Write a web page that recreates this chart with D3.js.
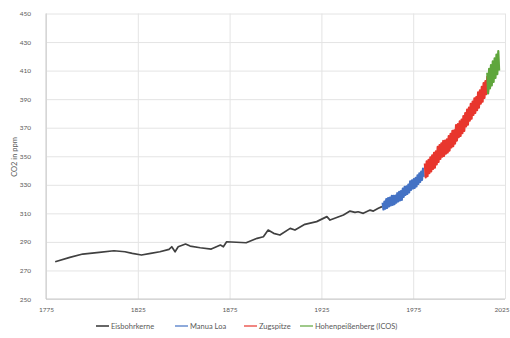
<!DOCTYPE html>
<html>
<head>
<meta charset="utf-8">
<script src="https://cdn.jsdelivr.net/npm/d3@7"></script>
<style>
  html, body { margin: 0; padding: 0; background: #fff; }
  svg { display: block; }
  text { font-family: Lato, "Open Sans", sans-serif; fill: #595959; }
</style>
</head>
<body>
<svg id="chart" width="510" height="338"></svg>
<script>
// Ice-core record (year, ppm)
const iceYears = [1780, 1788, 1795, 1804, 1812, 1818, 1822, 1827, 1832, 1837, 1842, 1843.5, 1845.3, 1847,
  1851, 1853.5, 1859, 1865, 1870, 1871.6, 1873.4, 1884, 1890, 1893.4, 1896, 1899, 1902.4, 1908, 1910.6,
  1916, 1922.4, 1928, 1929.7, 1937, 1940.6, 1943.3, 1945, 1947.8, 1951.5, 1953.3, 1956, 1958];
const iceValues = [276.1, 279.2, 281.5, 282.7, 283.8, 283.1, 282.0, 280.8, 282.0, 283.1, 284.8, 286.6, 283.1, 286.6,
  288.5, 287.1, 285.9, 285.0, 287.8, 286.6, 290.1, 289.4, 292.5, 293.6, 298.3, 296.0, 294.8, 299.5, 298.3,
  302.3, 304.2, 307.7, 305.3, 308.8, 311.6, 310.7, 311.1, 310.0, 312.3, 311.6, 313.5, 314.7];

// Station records: seasonal maximum (spring) and minimum (autumn) per year, starting at the first year
const maunaLoaStart = 1958;
const maunaLoaValues = [
  317.5, 312.7, 318.3, 313.3, 320.0, 313.8, 320.6, 314.8, 321.0, 315.6, 322.2, 316.0,
  322.3, 316.5, 322.5, 317.5, 324.1, 318.3, 325.0, 319.0, 325.6, 319.5, 327.4, 321.5,
  328.5, 322.9, 328.9, 323.7, 330.2, 324.6, 332.5, 326.5, 333.1, 327.4, 334.0, 327.8,
  334.9, 328.8, 336.7, 330.7, 338.0, 332.0, 339.2, 333.5, 341.4, 335.6];

const zugspitzeStart = 1981;
const zugspitzeValues = [
  345.0, 335.2, 346.4, 336.0, 347.5, 338.1, 349.3, 339.4, 350.6, 341.2, 352.4, 342.0,
  353.5, 344.3, 356.6, 346.0, 357.8, 348.1, 359.0, 349.7, 360.7, 350.3, 360.9, 351.8,
  361.8, 352.6, 364.1, 354.0, 365.7, 356.2, 367.8, 357.1, 368.2, 358.9, 371.9, 361.0,
  372.6, 363.4, 374.5, 364.3, 375.6, 366.2, 378.1, 367.8, 380.3, 370.9, 382.6, 372.1,
  384.0, 375.0, 386.7, 376.3, 388.2, 378.9, 390.6, 380.4, 391.5, 382.3, 394.8, 384.1,
  396.2, 386.8, 398.7, 388.2, 401.3, 390.9, 402.6, 393.5, 405.6, 395.4, 408.9, 398.1,
  410.2, 400.8];

const hohenStart = 2015;
const hohenValues = [
  408.5, 394.0, 411.2, 397.5, 413.8, 399.6, 416.5, 402.0, 418.6, 404.8, 421.2, 407.5,
  423.6, 410.0];

const yTicks = [250, 270, 290, 310, 330, 350, 370, 390, 410, 430, 450];
const xTicks = [1775, 1825, 1875, 1925, 1975, 2025];
const seriesNames = ["Eisbohrkerne", "Manua Loa", "Zugspitze", "Hohenpeißenberg (ICOS)"];
const seriesColors = ["#404040", "#4472c4", "#e8362d", "#5fa63c"];

// Seasonal pairs: max in late spring, min in autumn
function seasonal(start, values) {
  return values.map((v, i) => ({ x: start + Math.floor(i / 2) + (i % 2 === 0 ? 0.35 : 0.8), y: v }));
}

const series = [
  iceYears.map((yr, i) => ({ x: yr, y: iceValues[i] })),
  seasonal(maunaLoaStart, maunaLoaValues),
  seasonal(zugspitzeStart, zugspitzeValues),
  seasonal(hohenStart, hohenValues)
];

const svg = d3.select("#chart");
const plotLeft = 46, plotRight = 505, plotTop = 13.5, plotBottom = 299;

const x = d3.scaleLinear().domain([1775, 2025]).range([plotLeft, plotRight]);
const y = d3.scaleLinear().domain([250, 450]).range([plotBottom, plotTop]);

// Horizontal gridlines + y labels
const yAxis = svg.append("g")
  .attr("transform", `translate(${plotLeft},0)`)
  .call(d3.axisLeft(y).tickValues(yTicks).tickSize(-(plotRight - plotLeft)).tickPadding(15).tickFormat(d3.format("d")));
yAxis.select(".domain").remove();
yAxis.selectAll(".tick line").attr("stroke", "#e4e4e4").attr("stroke-width", 1);
yAxis.selectAll(".tick text").attr("font-size", 6.5).attr("fill", "#666").attr("font-family", "Lato, sans-serif");

// Vertical gridlines + x labels
const xAxis = svg.append("g")
  .attr("transform", `translate(0,${plotBottom})`)
  .call(d3.axisBottom(x).tickValues(xTicks).tickSize(-(plotBottom - plotTop)).tickPadding(8).tickFormat(d3.format("d")));
xAxis.select(".domain").remove();
xAxis.selectAll(".tick line").attr("stroke", "#e4e4e4").attr("stroke-width", 1);
xAxis.selectAll(".tick text").attr("font-size", 6.5).attr("fill", "#666").attr("font-family", "Lato, sans-serif");
// keep the last year label inside the canvas
xAxis.selectAll(".tick text").filter(d => d === xTicks[xTicks.length - 1])
  .attr("text-anchor", "end").attr("dx", 4);

// Axis lines
svg.append("line").attr("x1", plotLeft).attr("x2", plotLeft).attr("y1", plotTop).attr("y2", plotBottom)
  .attr("stroke", "#c8c8c8").attr("stroke-width", 1);
svg.append("line").attr("x1", plotLeft).attr("x2", plotRight).attr("y1", plotBottom).attr("y2", plotBottom)
  .attr("stroke", "#c8c8c8").attr("stroke-width", 1);

// Y axis title
svg.append("text")
  .attr("transform", `translate(17,157) rotate(-90)`)
  .attr("text-anchor", "middle")
  .attr("font-size", 7.5)
  .text("CO2 in ppm");

// Data lines
const line = d3.line().x(d => x(d.x)).y(d => y(d.y));
const widths = [1.7, 2.2, 2.2, 2.2];
series.forEach((s, i) => {
  svg.append("path")
    .datum(s)
    .attr("fill", "none")
    .attr("stroke", seriesColors[i])
    .attr("stroke-width", widths[i])
    .attr("stroke-linejoin", "round")
    .attr("d", line);
});

// Legend
const legendX = [96, 175, 244, 300];
const legendY = 326;
const legend = svg.append("g");
seriesNames.forEach((name, i) => {
  const g = legend.append("g").attr("transform", `translate(${legendX[i]},${legendY})`);
  g.append("line").attr("x1", 0).attr("x2", 13).attr("y1", 0).attr("y2", 0)
    .attr("stroke", seriesColors[i]).attr("stroke-width", i === 0 ? 1.6 : 1.2);
  g.append("text").attr("x", 15).attr("y", 2.5).attr("font-size", 7.5).text(name);
});
</script>
</body>
</html>
